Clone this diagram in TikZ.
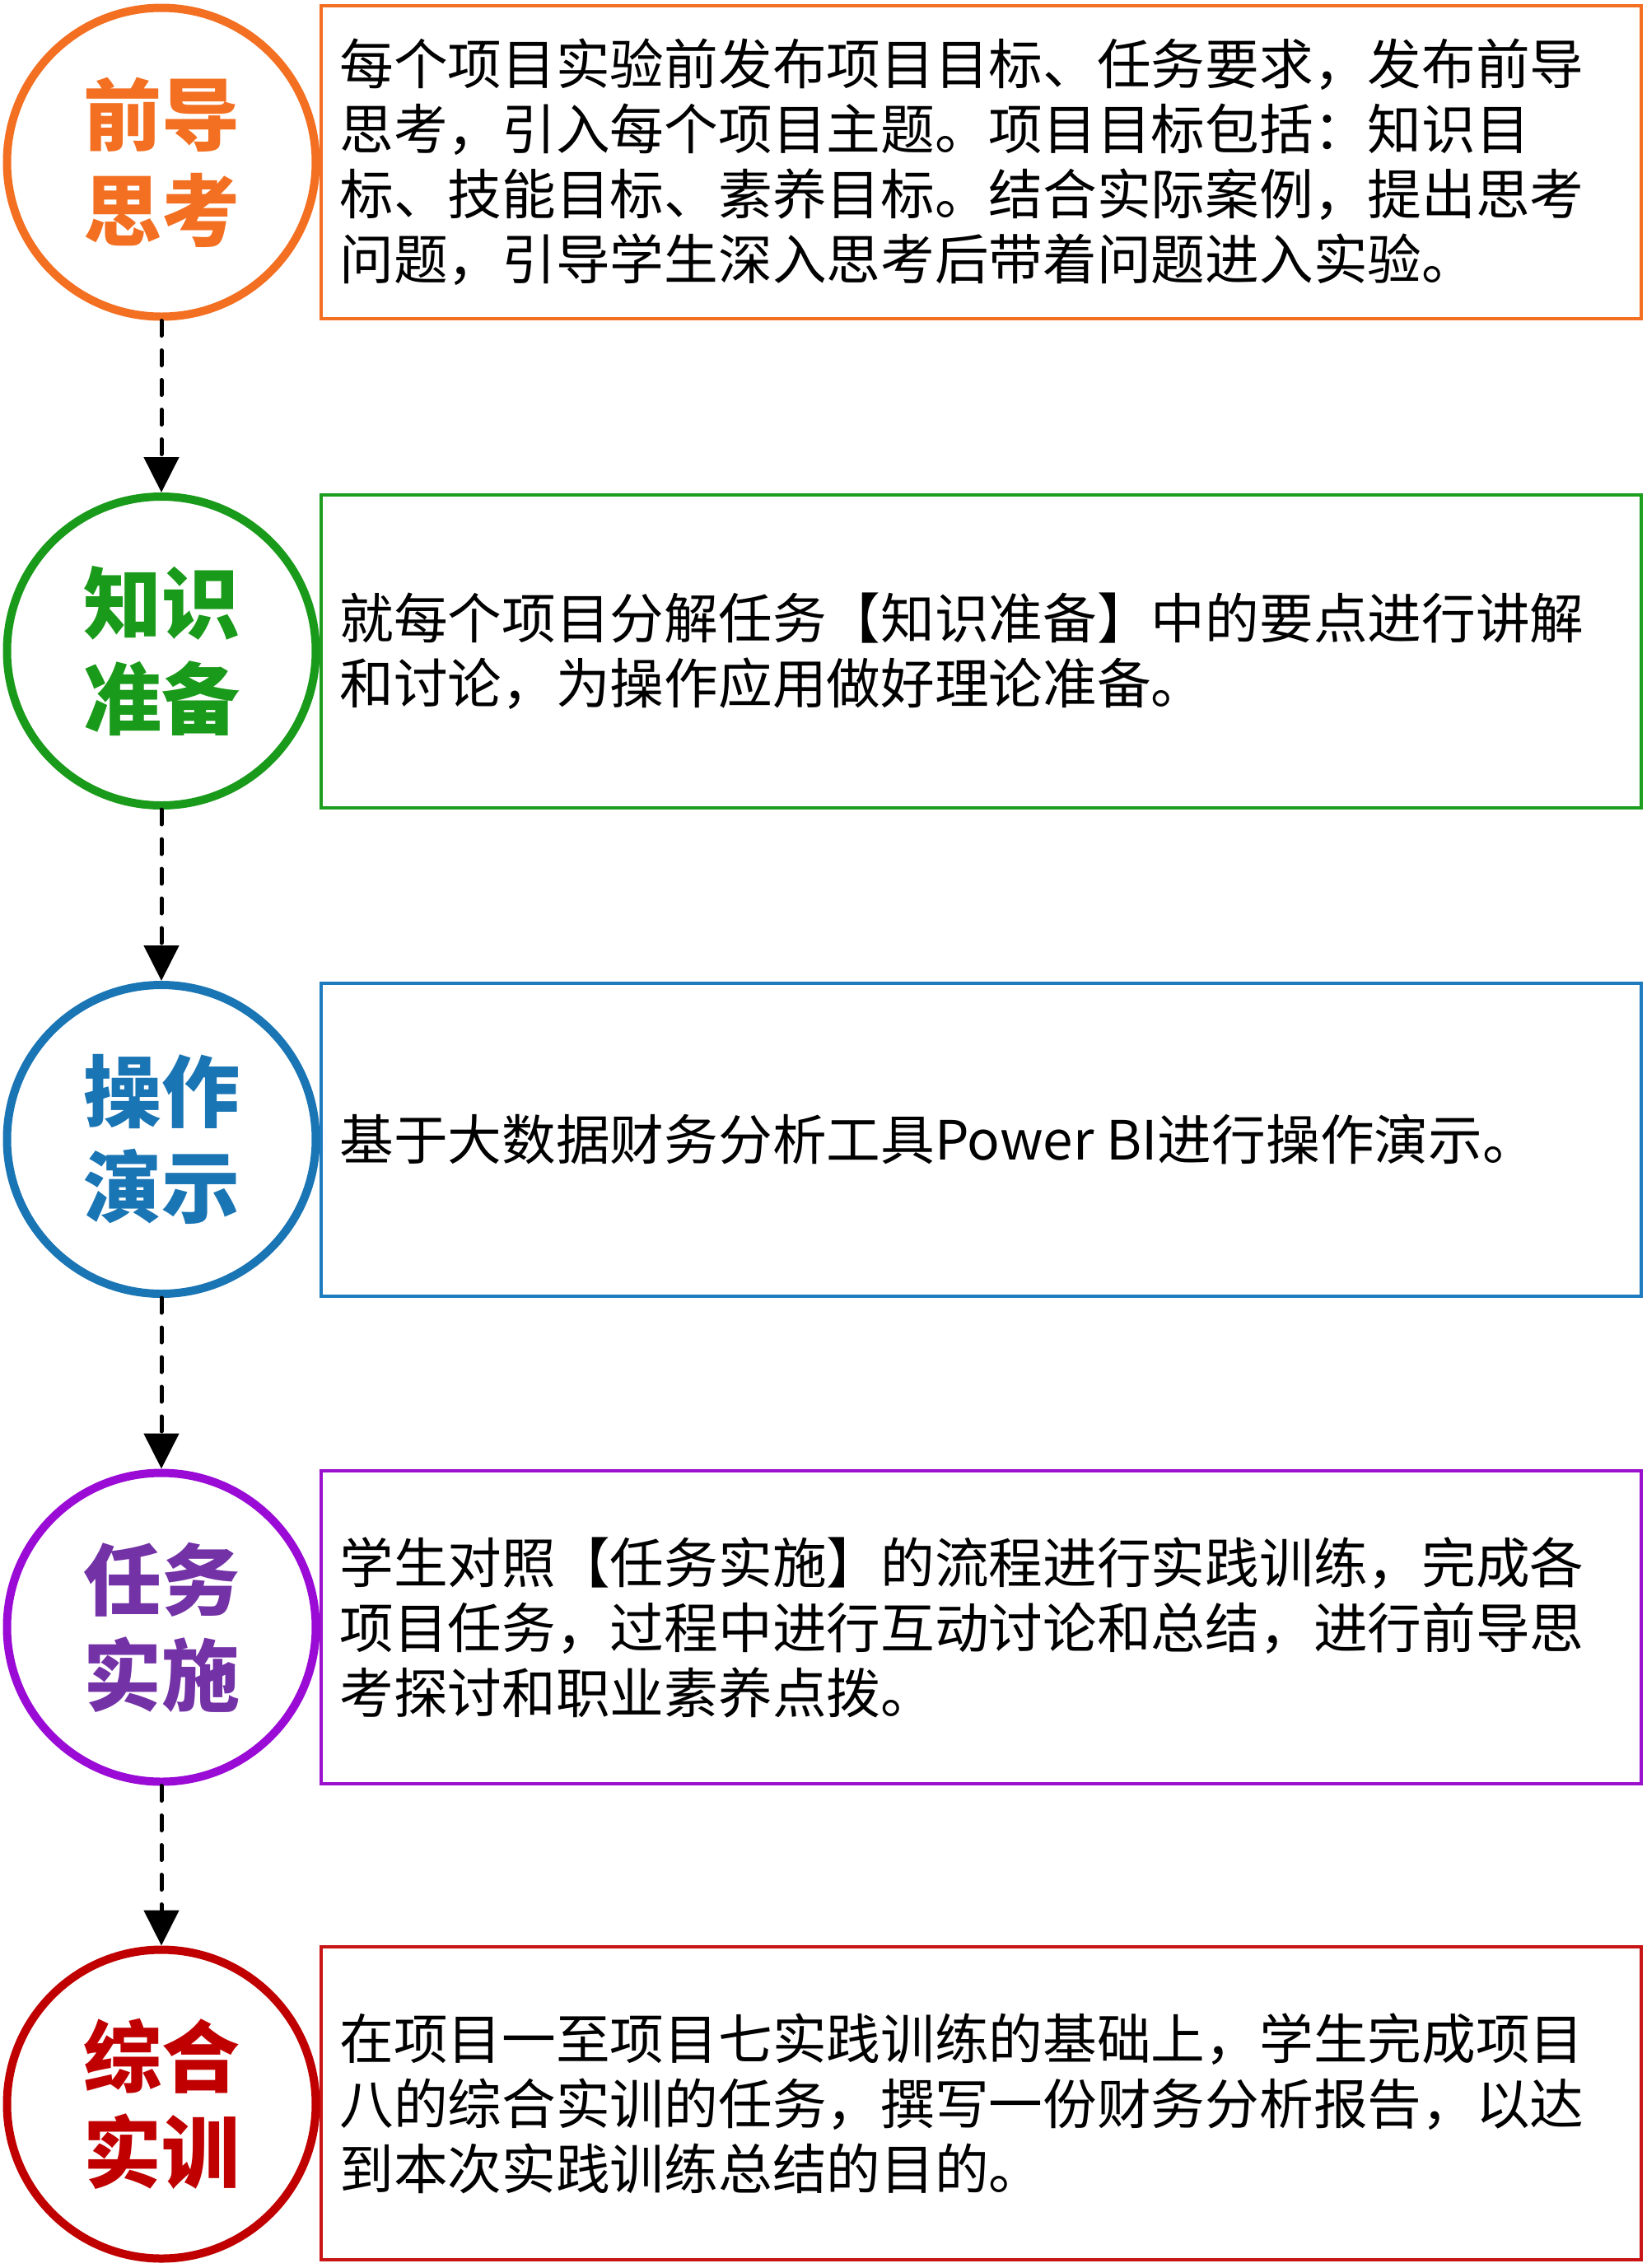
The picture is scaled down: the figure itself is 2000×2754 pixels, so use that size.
\documentclass[tikz,border=0pt]{standalone}
\usepackage{fontspec}
\setmainfont{Noto Sans CJK SC}
\usetikzlibrary{arrows.meta}
\definecolor{ringA}{HTML}{F36F21}
\definecolor{textA}{HTML}{F36F21}
\definecolor{boxA}{HTML}{F36F21}
\definecolor{ringB}{HTML}{1A9A1A}
\definecolor{textB}{HTML}{1A9A1A}
\definecolor{boxB}{HTML}{1E9E1E}
\definecolor{ringC}{HTML}{1A75B4}
\definecolor{textC}{HTML}{1A75B4}
\definecolor{boxC}{HTML}{1F7BBF}
\definecolor{ringD}{HTML}{9A0BD6}
\definecolor{textD}{HTML}{7332A6}
\definecolor{boxD}{HTML}{9A10CC}
\definecolor{ringE}{HTML}{C00000}
\definecolor{textE}{HTML}{C00000}
\definecolor{boxE}{HTML}{C81414}
\begin{document}
\begin{tikzpicture}[x=0.5pt,y=-0.5pt,
  stepring/.style={circle, draw=#1, line width=5pt, minimum size=187.5pt, inner sep=0pt, fill=white},
  steplabel/.style={text=#1, font=\bfseries\fontsize{47.5}{58}\selectfont, align=center, inner sep=0pt},
  stepbox/.style={rectangle, draw=#1, line width=2pt, minimum width=801.5pt, minimum height=190pt, inner sep=0pt},
  bodytext/.style={anchor=west, align=left, inner sep=0pt, text=black, font=\fontsize{32.85}{39.5}\selectfont},
  flowarrow/.style={draw=black, line width=2.5pt, line cap=round, dash pattern=on 9pt off 9pt, -{Triangle[length=21.5pt,width=21pt]}}
]
\useasboundingbox (0,0) rectangle (2000,2754);
% boxes
\node[stepbox=boxA] (b1) at (1191.5,197) {};
\node[stepbox=boxB] (b2) at (1191.5,790.5) {};
\node[stepbox=boxC] (b3) at (1191.5,1383.5) {};
\node[stepbox=boxD] (b4) at (1191.5,1976) {};
\node[stepbox=boxE] (b5) at (1191.5,2554) {};
% rings
\node[stepring=ringA] (c1) at (196,197) {};
\node[stepring=ringB] (c2) at (196,790.5) {};
\node[stepring=ringC] (c3) at (196,1383.5) {};
\node[stepring=ringD] (c4) at (196,1976) {};
\node[stepring=ringE] (c5) at (196,2555) {};
% ring labels
\node[steplabel=textA] (l1) at (c1.center) {前导\\思考};
\node[steplabel=textB] (l2) at (c2.center) {知识\\准备};
\node[steplabel=textC] (l3) at (c3.center) {操作\\演示};
\node[steplabel=textD] (l4) at (c4.center) {任务\\实施};
\node[steplabel=textE] (l5) at (c5.center) {综合\\实训};
% body texts
\node[bodytext] (t1) at ([xshift=12pt]b1.west) {每个项目实验前发布项目目标、任务要求，发布前导\\思考，引入每个项目主题。项目目标包括：知识目\\标、技能目标、素养目标。结合实际案例，提出思考\\问题，引导学生深入思考后带着问题进入实验。};
\node[bodytext] (t2) at ([xshift=12pt]b2.west) {就每个项目分解任务【知识准备】中的要点进行讲解\\和讨论，为操作应用做好理论准备。};
\node[bodytext] (t3) at ([xshift=12pt]b3.west) {基于大数据财务分析工具Power BI进行操作演示。};
\node[bodytext] (t4) at ([xshift=12pt]b4.west) {学生对照【任务实施】的流程进行实践训练，完成各\\项目任务，过程中进行互动讨论和总结，进行前导思\\考探讨和职业素养点拨。};
\node[bodytext] (t5) at ([xshift=12pt]b5.west) {在项目一至项目七实践训练的基础上，学生完成项目\\八的综合实训的任务，撰写一份财务分析报告，以达\\到本次实践训练总结的目的。};
% connectors
\draw[flowarrow] (c1.south) -- (c2.north);
\draw[flowarrow] (c2.south) -- (c3.north);
\draw[flowarrow] (c3.south) -- (c4.north);
\draw[flowarrow] (c4.south) -- (c5.north);
\end{tikzpicture}
\end{document}
